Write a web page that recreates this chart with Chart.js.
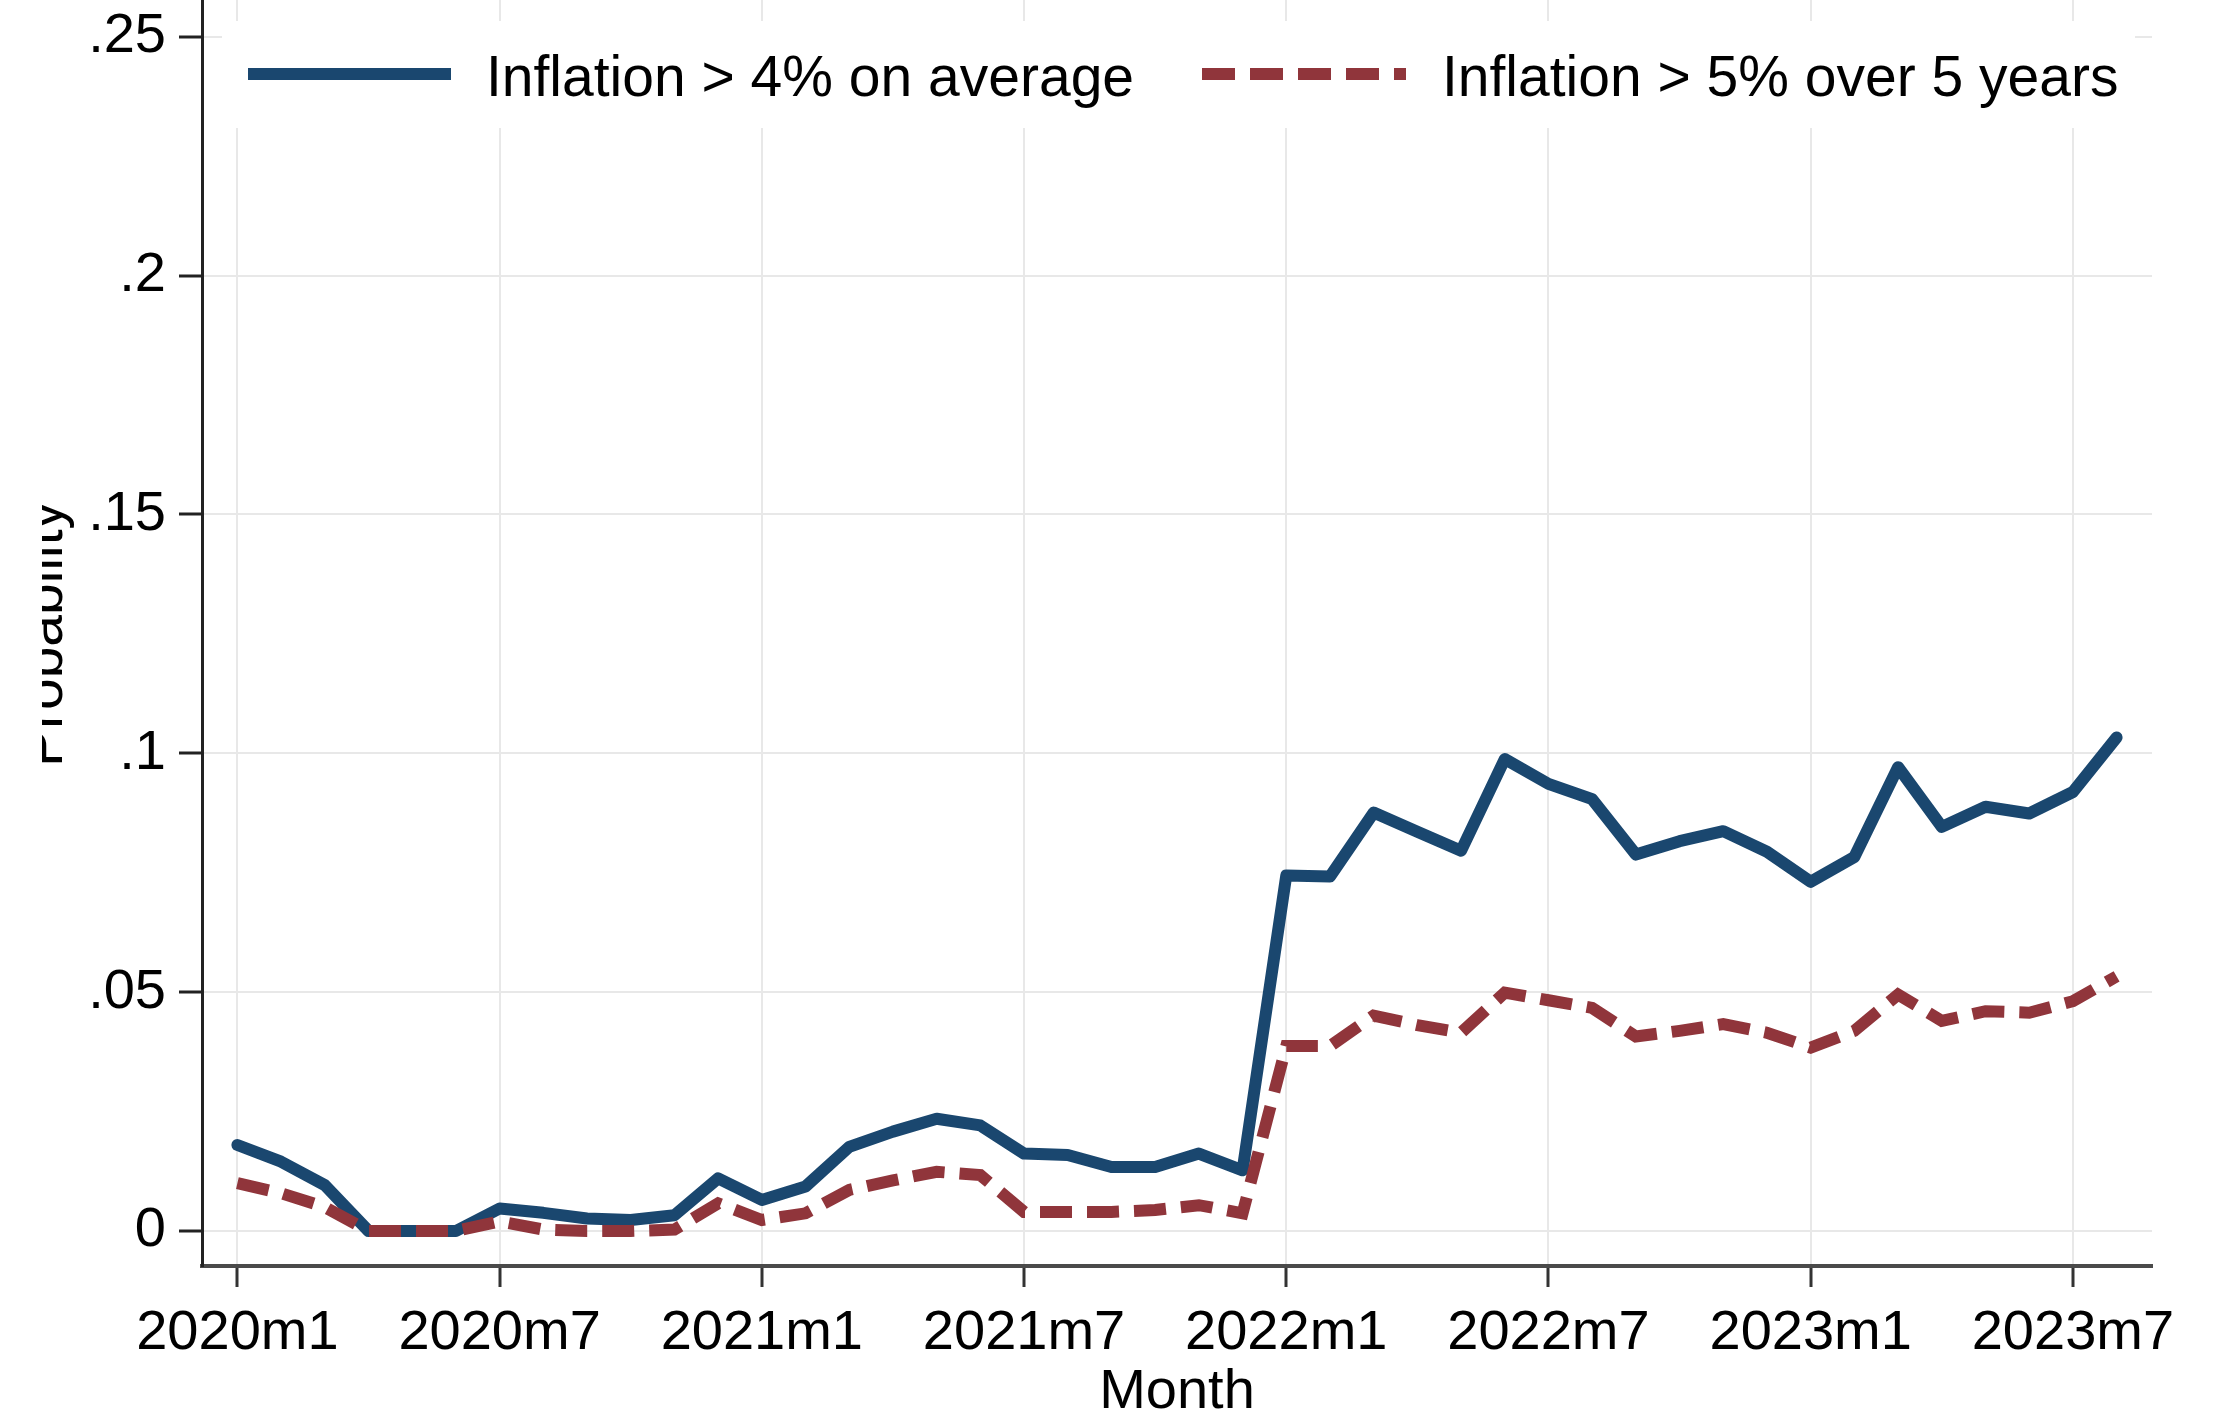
<!DOCTYPE html>
<html>
<head>
<meta charset="utf-8">
<script src="https://cdn.jsdelivr.net/npm/chart.js@4.4.1/dist/chart.umd.min.js"></script>
<style>
  html, body { margin: 0; padding: 0; background: #ffffff; }
  #wrap { width: 2223px; height: 1421px; }
</style>
</head>
<body>
<div id="wrap"><canvas id="c" width="2223" height="1421"></canvas></div>
<script>
// ---------- data ----------
const months = [
  "2020m1","2020m2","2020m3","2020m4","2020m5","2020m6","2020m7","2020m8","2020m9","2020m10","2020m11","2020m12",
  "2021m1","2021m2","2021m3","2021m4","2021m5","2021m6","2021m7","2021m8","2021m9","2021m10","2021m11","2021m12",
  "2022m1","2022m2","2022m3","2022m4","2022m5","2022m6","2022m7","2022m8","2022m9","2022m10","2022m11","2022m12",
  "2023m1","2023m2","2023m3","2023m4","2023m5","2023m6","2023m7","2023m8"
];
const inflationOver4Avg = [
  0.0180, 0.0145, 0.0096, 0.0000, 0.0000, 0.0000, 0.0047, 0.0038, 0.0026, 0.0023, 0.0033, 0.0110,
  0.0065, 0.0093, 0.0176, 0.0208, 0.0235, 0.0221, 0.0162, 0.0159, 0.0134, 0.0134, 0.0162, 0.0127,
  0.0744, 0.0742, 0.0876, 0.0836, 0.0796, 0.0988, 0.0936, 0.0904, 0.0788, 0.0816, 0.0837, 0.0794,
  0.0731, 0.0783, 0.0971, 0.0846, 0.0888, 0.0874, 0.0919, 0.1033
];
const inflationOver5In5y = [
  0.0100, 0.0079, 0.0050, 0.0000, 0.0000, 0.0000, 0.0020, 0.0003, 0.0000, 0.0000, 0.0003, 0.0058,
  0.0023, 0.0037, 0.0086, 0.0106, 0.0124, 0.0117, 0.0040, 0.0040, 0.0040, 0.0044, 0.0054, 0.0037,
  0.0387, 0.0387, 0.0451, 0.0431, 0.0415, 0.0499, 0.0483, 0.0467, 0.0407, 0.0419, 0.0433, 0.0415,
  0.0384, 0.0419, 0.0495, 0.0440, 0.0460, 0.0457, 0.0481, 0.0533
];
const xTickIndices = [0, 6, 12, 18, 24, 30, 36, 42];
const yTickValues = [0, 0.05, 0.10, 0.15, 0.20, 0.25];
const yTickLabels = ["0", ".05", ".1", ".15", ".2", ".25"];
const seriesNames = ["Inflation > 4% on average", "Inflation > 5% over 5 years"];
const xTitle = "Month";
const yTitle = "Probability";

// ---------- styles ----------
const NAVY = "#1a476f";
const MAROON = "#90353b";
const FONT = "'Liberation Sans', Arial, sans-serif";
const GRID = "#e8e8e8";

const toPoints = arr => arr.map((v, i) => ({ x: i, y: v }));

const overlayPlugin = {
  id: 'overlay',
  beforeDatasetsDraw(chart) {
    const ctx = chart.ctx;
    ctx.save();
    // legend background (covers gridlines like the original)
    ctx.fillStyle = '#ffffff';
    ctx.fillRect(222, 21, 1913, 107);
    // legend item 1
    ctx.strokeStyle = NAVY;
    ctx.lineWidth = 12;
    ctx.lineCap = 'butt';
    ctx.beginPath();
    ctx.moveTo(248, 74);
    ctx.lineTo(451, 74);
    ctx.stroke();
    ctx.fillStyle = '#000';
    ctx.font = "57px " + FONT;
    ctx.textBaseline = 'alphabetic';
    ctx.textAlign = 'left';
    ctx.fillText(seriesNames[0], 486, 96);
    // legend item 2
    ctx.strokeStyle = MAROON;
    ctx.setLineDash([33, 15]);
    ctx.beginPath();
    ctx.moveTo(1202, 74);
    ctx.lineTo(1406, 74);
    ctx.stroke();
    ctx.setLineDash([]);
    ctx.fillText(seriesNames[1], 1442, 96);
    ctx.restore();
  },
  afterDraw(chart) {
    const ctx = chart.ctx;
    ctx.save();
    ctx.beginPath();
    ctx.rect(42, 0, 160, 1421);
    ctx.clip();
    ctx.translate(62, 634);
    ctx.rotate(-Math.PI / 2);
    ctx.fillStyle = '#000';
    ctx.font = "57px " + FONT;
    ctx.textAlign = 'center';
    ctx.textBaseline = 'alphabetic';
    ctx.fillText(yTitle, 0, 0);
    ctx.restore();
  }
};

new Chart(document.getElementById('c'), {
  type: 'line',
  data: {
    datasets: [
      {
        label: seriesNames[0],
        data: toPoints(inflationOver4Avg),
        borderColor: NAVY,
        backgroundColor: NAVY,
        borderWidth: 12,
        borderJoinStyle: 'round',
        borderCapStyle: 'round',
        pointRadius: 0,
        tension: 0,
        fill: false,
        order: 2
      },
      {
        label: seriesNames[1],
        data: toPoints(inflationOver5In5y),
        borderColor: MAROON,
        backgroundColor: MAROON,
        borderWidth: 12,
        borderDash: [32, 15],
        borderJoinStyle: 'miter',
        borderCapStyle: 'butt',
        pointRadius: 0,
        tension: 0,
        fill: false,
        order: 1
      }
    ]
  },
  options: {
    responsive: false,
    animation: false,
    events: [],
    layout: { padding: { left: 0, right: 71, top: 0, bottom: 0 } },
    plugins: {
      legend: { display: false },
      tooltip: { enabled: false },
      title: { display: false }
    },
    scales: {
      x: {
        type: 'linear',
        min: -0.81,
        max: 43.81,
        afterBuildTicks: s => { s.ticks = xTickIndices.map(v => ({ value: v })); },
        afterFit: s => { s.height = 155; s.paddingLeft = 0; s.paddingRight = 0; },
        ticks: {
          autoSkip: false,
          maxRotation: 0,
          minRotation: 0,
          padding: 13,
          color: '#000',
          font: { family: FONT, size: 56 },
          callback: v => months[v]
        },
        grid: {
          color: GRID,
          lineWidth: 2,
          drawTicks: true,
          tickLength: 21,
          tickColor: '#333',
          tickWidth: 3
        },
        border: { display: true, color: '#4a4a4a', width: 4 },
        title: {
          display: true,
          text: xTitle,
          color: '#000',
          font: { family: FONT, size: 56, lineHeight: 1 },
          padding: { top: 0, bottom: 0 }
        }
      },
      y: {
        type: 'linear',
        min: -0.00733,
        max: 0.2577,
        afterBuildTicks: s => { s.ticks = yTickValues.map(v => ({ value: v })); },
        afterFit: s => { s.width = 202; s.paddingTop = 0; s.paddingBottom = 0; },
        ticks: {
          padding: 13,
          color: '#000',
          font: { family: FONT, size: 56 },
          callback: v => {
            const i = yTickValues.findIndex(t => Math.abs(t - v) < 1e-9);
            return i >= 0 ? yTickLabels[i] : '';
          }
        },
        grid: {
          color: GRID,
          lineWidth: 2,
          drawTicks: true,
          tickLength: 23,
          tickColor: '#222',
          tickWidth: 3
        },
        border: { display: true, color: '#222', width: 3 },
        title: { display: false }
      }
    }
  },
  plugins: [overlayPlugin]
});
</script>
</body>
</html>
